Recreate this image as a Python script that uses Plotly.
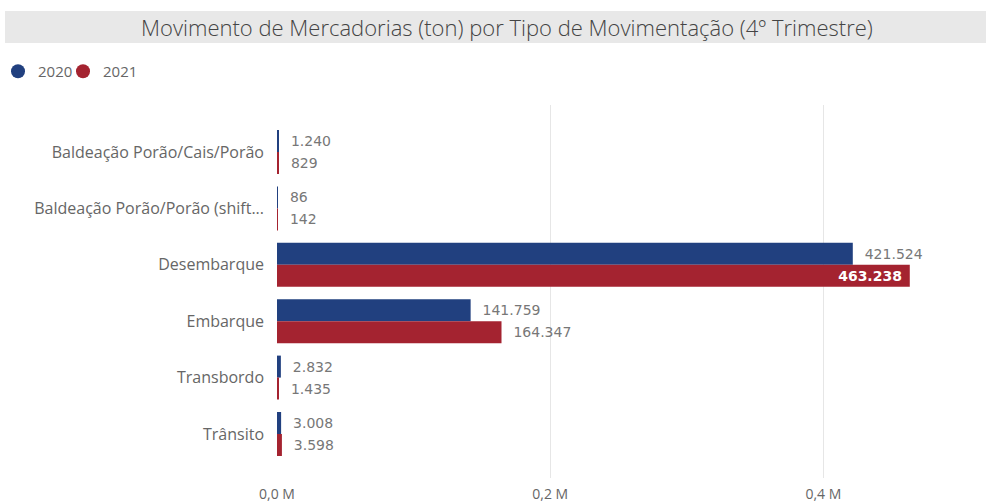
import plotly.graph_objects as go

categories = [
    "Baldeação Porão/Cais/Porão",
    "Baldeação Porão/Porão (shift...",
    "Desembarque",
    "Embarque",
    "Transbordo",
    "Trânsito",
]
values_2020 = [1240, 86, 421524, 141759, 2832, 3008]
values_2021 = [829, 142, 463238, 164347, 1435, 3598]
series_names = ["2020", "2021"]
tick_values = [0, 200000, 400000]
tick_labels = ["0,0 M", "0,2 M", "0,4 M"]
title_text = "Movimento de Mercadorias (ton) por Tipo de Movimentação (4º Trimestre)"

BLUE = "#21407F"
RED = "#A42330"
W, H = 986, 504

label_font = dict(family="DejaVu Sans, Roboto, sans-serif", size=14, color="#777777")

fig = go.Figure()

pos_2021 = ["inside" if v == max(values_2021) else "outside" for v in values_2021]

fig.add_trace(go.Bar(
    y=categories, x=values_2020, orientation="h", name=series_names[0],
    marker=dict(color=BLUE, line=dict(width=0)),
    texttemplate="\u00a0\u00a0%{x:,.0f}", textposition="outside",
    outsidetextfont=label_font, textangle=0, cliponaxis=False,
    showlegend=False, hoverinfo="x+y",
))
fig.add_trace(go.Bar(
    y=categories, x=values_2021, orientation="h", name=series_names[1],
    marker=dict(color=RED, line=dict(width=0)),
    texttemplate=["%{x:,.0f}\u00a0" if p == "inside" else "\u00a0\u00a0%{x:,.0f}" for p in pos_2021],
    textposition=pos_2021,
    outsidetextfont=label_font,
    insidetextfont=dict(family="DejaVu Sans, Roboto, sans-serif", size=14, color="white", weight="bold"),
    insidetextanchor="end", constraintext="none", textangle=0, cliponaxis=False,
    showlegend=False, hoverinfo="x+y",
))

# legend entries with circular symbols (one legend box per entry)
legend_ids = ["legend", "legend2"]
for name, col, lg in zip(series_names, [BLUE, RED], legend_ids):
    fig.add_trace(go.Scatter(
        x=[None], y=[None], mode="markers", name=name,
        marker=dict(symbol="circle", size=14, color=col),
        showlegend=True, legend=lg,
    ))

# title band
fig.add_shape(type="rect", xref="paper", yref="paper",
              x0=5 / W, x1=1.0, y0=1 - 43 / H, y1=1 - 11 / H,
              fillcolor="#E8E8E8", line=dict(width=0), layer="below")
fig.add_annotation(text=title_text, xref="paper", yref="paper",
                   x=507 / W, y=1 - 27 / H, xanchor="center", yanchor="middle",
                   showarrow=False,
                   font=dict(family="Open Sans, sans-serif", size=22, color="#444444", weight=300))

legend_style = dict(orientation="h", xanchor="left", yanchor="top",
                    font=dict(family="Open Sans, sans-serif", size=15, color="#666666"),
                    itemwidth=30, bgcolor="rgba(0,0,0,0)", borderwidth=0)

y_top_px, y_bot_px = 105, 478
first_c, spacing = 152, 56.4
fig.update_layout(
    template="none",
    width=W, height=H,
    margin=dict(l=0, r=0, t=0, b=0, autoexpand=False),
    paper_bgcolor="white", plot_bgcolor="white",
    separators=",.",
    barmode="group", bargap=0.22, bargroupgap=0,
    font=dict(family="Open Sans, sans-serif", color="#666666"),
    legend=dict(x=-2 / W, y=1 - 55 / H, **legend_style),
    legend2=dict(x=63 / W, y=1 - 55 / H, **legend_style),
    xaxis=dict(
        domain=[277 / W, 960 / W], range=[0, 500000], automargin=False,
        tickvals=tick_values, ticktext=tick_labels,
        showgrid=True, gridcolor="#E6E6E6", gridwidth=1, zeroline=False,
        showline=False, ticks="", ticklabelstandoff=6,
        tickfont=dict(family="Open Sans, sans-serif", size=14, color="#666666"),
        fixedrange=True,
    ),
    yaxis=dict(
        domain=[1 - y_bot_px / H, 1 - y_top_px / H], automargin=False,
        range=[(y_bot_px - first_c) / spacing, (y_top_px - first_c) / spacing],
        categoryorder="array", categoryarray=categories,
        showgrid=False, zeroline=False, showline=False, ticks="",
        ticklabelstandoff=12,
        tickfont=dict(family="Open Sans, sans-serif", size=16, color="#666666"),
        fixedrange=True,
    ),
)

fig.write_html("out.html", config={"displayModeBar": False},
               post_script="document.body.style.margin='0';")
